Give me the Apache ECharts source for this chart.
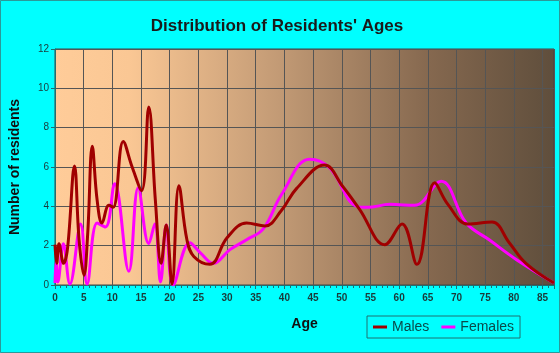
<!DOCTYPE html>
<html>
<head>
<meta charset="utf-8">
<script src="https://cdn.jsdelivr.net/npm/echarts@6/dist/echarts.min.js"></script>
<style>
  html, body { margin: 0; padding: 0; background: #00ffff; }
  #chart { width: 560px; height: 353px; }
</style>
</head>
<body>
<div id="chart"></div>
<script>
// points: [age, residents]
var males = [
  [0, 2.05], [0.3, 1.1], [0.7, 2.1], [1.5, 1.1], [2.2, 1.9], [3.4, 6.05], [4.2, 2.3],
  [5.05, 0.5], [5.7, 2.6], [6.5, 7.05], [7.35, 4.3], [8.2, 3.15], [9.4, 4.05], [10.15, 3.95],
  [11.9, 7.3], [13.45, 6.0], [15.1, 4.8], [16.35, 9.05], [17.5, 4.3], [18.5, 1.1], [19.4, 3.05],
  [20.4, 0.05], [21.6, 5.05], [23.0, 2.3], [24.2, 1.45], [27.0, 1.05], [30.0, 2.4], [33.4, 3.15],
  [36.6, 3.0], [39.5, 3.8], [42.1, 4.9], [47.0, 6.1], [50.2, 5.0], [53.1, 3.85], [57.5, 2.05],
  [60.5, 3.1], [63.1, 1.05], [66.2, 5.2], [68.5, 4.1], [72.0, 3.1], [76.2, 3.2], [79.2, 2.15],
  [82.1, 1.1], [87, 0.1]
];
var females = [
  [0, 0.1], [0.2, 1.2], [0.5, 0.15], [1.45, 2.1], [2.6, 0.05], [4.47, 3.1], [5.6, 0.05],
  [7.35, 3.15], [8.8, 2.95], [10.4, 5.15], [12.87, 0.7], [14.5, 4.95], [16.35, 2.1], [17.4, 3.1],
  [18.4, 0.15], [19.4, 3.05], [20.6, 0.0], [23.5, 2.15], [25.3, 1.65], [27.6, 1.1], [30.5, 1.8],
  [33.4, 2.3], [36.3, 2.85], [39.5, 4.6], [44.4, 6.4], [47.9, 5.95], [52.6, 4.0], [54.5, 3.95],
  [58.4, 4.1], [62.7, 4.05], [67.3, 5.27], [71.7, 3.15], [75.7, 2.3], [80.4, 1.3], [87, 0.1]
];
var seriesNames = ['Males', 'Females'];
var yTicks = [0, 2, 4, 6, 8, 10, 12];

var chart = echarts.init(document.getElementById('chart'));
var option = {
    backgroundColor: '#00ffff',
    animation: false,
    title: {
        text: "Distribution of Residents' Ages",
        left: 272,
        top: 13,
        textAlign: 'center',
        textStyle: { fontFamily: 'Liberation Sans', fontSize: 17, fontWeight: 'bold', color: '#1a1a1a' }
    },
    graphic: [{
        type: 'rect',
        shape: { x: 0.5, y: 0.5, width: 559, height: 352 },
        style: { fill: 'none', stroke: '#2a9a9a', lineWidth: 1 },
        silent: true
    }],
    legend: {
        left: 367,
        top: 316,
        padding: [4, 6, 4, 6],
        borderColor: '#1f7070',
        borderWidth: 1,
        itemWidth: 14,
        itemHeight: 3,
        itemGap: 12,
        icon: 'rect',
        data: seriesNames,
        textStyle: { fontFamily: 'Liberation Sans', fontSize: 14, color: '#0a4a4a' }
    },
    grid: {
        left: 54,
        top: 49,
        right: 6,
        bottom: 68,
        show: true,
        borderColor: '#444',
        borderWidth: 1,
        backgroundColor: new echarts.graphic.LinearGradient(0, 0, 1, 0, [
            { offset: 0, color: '#ffcc99' },
            { offset: 0.15, color: '#fac794' },
            { offset: 0.45, color: '#c29a75' },
            { offset: 0.75, color: '#85684f' },
            { offset: 1, color: '#5f4e3c' }
        ])
    },
    xAxis: {
        type: 'value',
        min: 0,
        max: 87,
        interval: 5,
        name: 'Age',
        nameLocation: 'middle',
        nameGap: 32,
        nameTextStyle: { fontFamily: 'Liberation Sans', fontSize: 14, fontWeight: 'bold', color: '#111' },
        axisLine: { lineStyle: { color: '#1f6f6f' } },
        axisTick: { length: 4, lineStyle: { color: '#1f6f6f' } },
        minorTick: { show: true, splitNumber: 5, length: 3, lineStyle: { color: '#1f6f6f' } },
        axisLabel: { showMaxLabel: false, fontFamily: 'Liberation Sans', fontSize: 10, fontWeight: 'bold', color: '#1a3a3a', margin: 8 },
        splitLine: { lineStyle: { color: '#555', width: 1 } }
    },
    yAxis: {
        type: 'value',
        min: yTicks[0],
        max: yTicks[yTicks.length - 1],
        interval: 2,
        name: 'Number of residents',
        nameLocation: 'middle',
        nameGap: 33,
        nameTextStyle: { fontFamily: 'Liberation Sans', fontSize: 14, fontWeight: 'bold', color: '#111' },
        axisLine: { show: true, lineStyle: { color: '#1f6f6f' } },
        axisTick: { show: true, length: 4, lineStyle: { color: '#1f6f6f' } },
        axisLabel: { fontFamily: 'Liberation Sans', fontSize: 10, color: '#1a3a3a', margin: 6 },
        splitLine: { lineStyle: { color: '#555', width: 1 } }
    },
    series: [
        {
            name: seriesNames[0],
            type: 'line',
            data: males,
            smooth: 0.4,
            symbol: 'none',
            color: '#a00000',
            lineStyle: { width: 3, color: '#a00000' },
            z: 3
        },
        {
            name: seriesNames[1],
            type: 'line',
            data: females,
            smooth: 0.4,
            symbol: 'none',
            color: '#ff00ff',
            lineStyle: { width: 3, color: '#ff00ff' },
            z: 2
        }
    ]
};
chart.setOption(option);
window.addEventListener('resize', function () {
    chart.resize();
});
</script>
</body>
</html>
